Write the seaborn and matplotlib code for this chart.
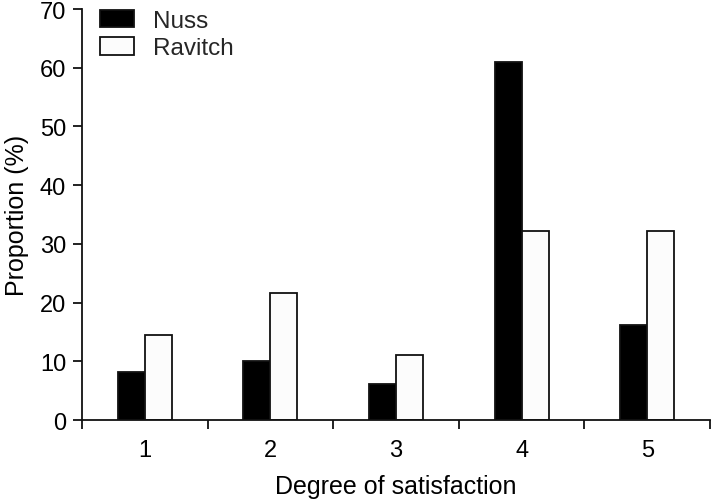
import matplotlib
matplotlib.use("Agg")
import matplotlib.pyplot as plt
import seaborn as sns
import numpy as np
import pandas as pd
from matplotlib.ticker import FixedLocator, NullFormatter

# --- Data ---
categories = ["1", "2", "3", "4", "5"]
nuss = [8.2, 10.0, 6.1, 61.0, 16.1]
ravitch = [14.5, 21.6, 11.1, 32.2, 32.2]
groups = ["Nuss", "Ravitch"]

df = pd.DataFrame({
    "degree": categories * 2,
    "group": [groups[0]] * len(categories) + [groups[1]] * len(categories),
    "proportion": nuss + ravitch,
})

sns.set_theme(style="ticks")
plt.rcParams["font.family"] = ["Liberation Sans", "DejaVu Sans"]

fig = plt.figure(figsize=(7.12, 5.02), dpi=100)
ax = fig.add_axes([82 / 712, 1 - 421 / 502, 628 / 712, 411 / 502])

sns.barplot(data=df, x="degree", y="proportion", hue="group",
            palette={"Nuss": "black", "Ravitch": "#fcfcfc"},
            width=0.43, edgecolor="#111111", linewidth=1.3,
            saturation=1, errorbar=None, ax=ax)

ax.set_xlim(-0.5, len(categories) - 0.5)
ax.set_ylim(0, 70)
ax.set_yticks(np.arange(0, 71, 10))

# category boundaries get the tick marks, labels sit in between
ax.xaxis.set_major_locator(FixedLocator(np.arange(-0.5, len(categories), 1.0)))
ax.xaxis.set_major_formatter(NullFormatter())
ax.xaxis.set_minor_locator(FixedLocator(np.arange(len(categories))))
ax.set_xticklabels(categories, minor=True)
ax.tick_params(axis="x", which="major", length=6.5, width=1.3, direction="out", colors="#111111")
ax.tick_params(axis="x", which="minor", length=0, pad=14, labelsize=17)
ax.tick_params(axis="y", length=6.5, width=1.3, labelsize=17, pad=5, colors="#111111")
for lab in ax.get_xticklabels(minor=True) + ax.get_yticklabels():
    lab.set_color("black")

for side in ["top", "right"]:
    ax.spines[side].set_visible(False)
for side in ["left", "bottom"]:
    ax.spines[side].set_linewidth(1.3)
    ax.spines[side].set_color("#111111")

ax.set_xlabel("Degree of satisfaction", fontsize=18, labelpad=9, color="black")
ax.set_ylabel("Proportion (%)", fontsize=18, labelpad=8, color="black")

leg = ax.legend(loc="upper left", bbox_to_anchor=(0.013, 1.022), frameon=False,
                fontsize=17.5, handlelength=1.4, handleheight=0.75,
                handletextpad=0.8, labelspacing=0.2, borderaxespad=0)

fig.savefig("out.png", dpi=100)
